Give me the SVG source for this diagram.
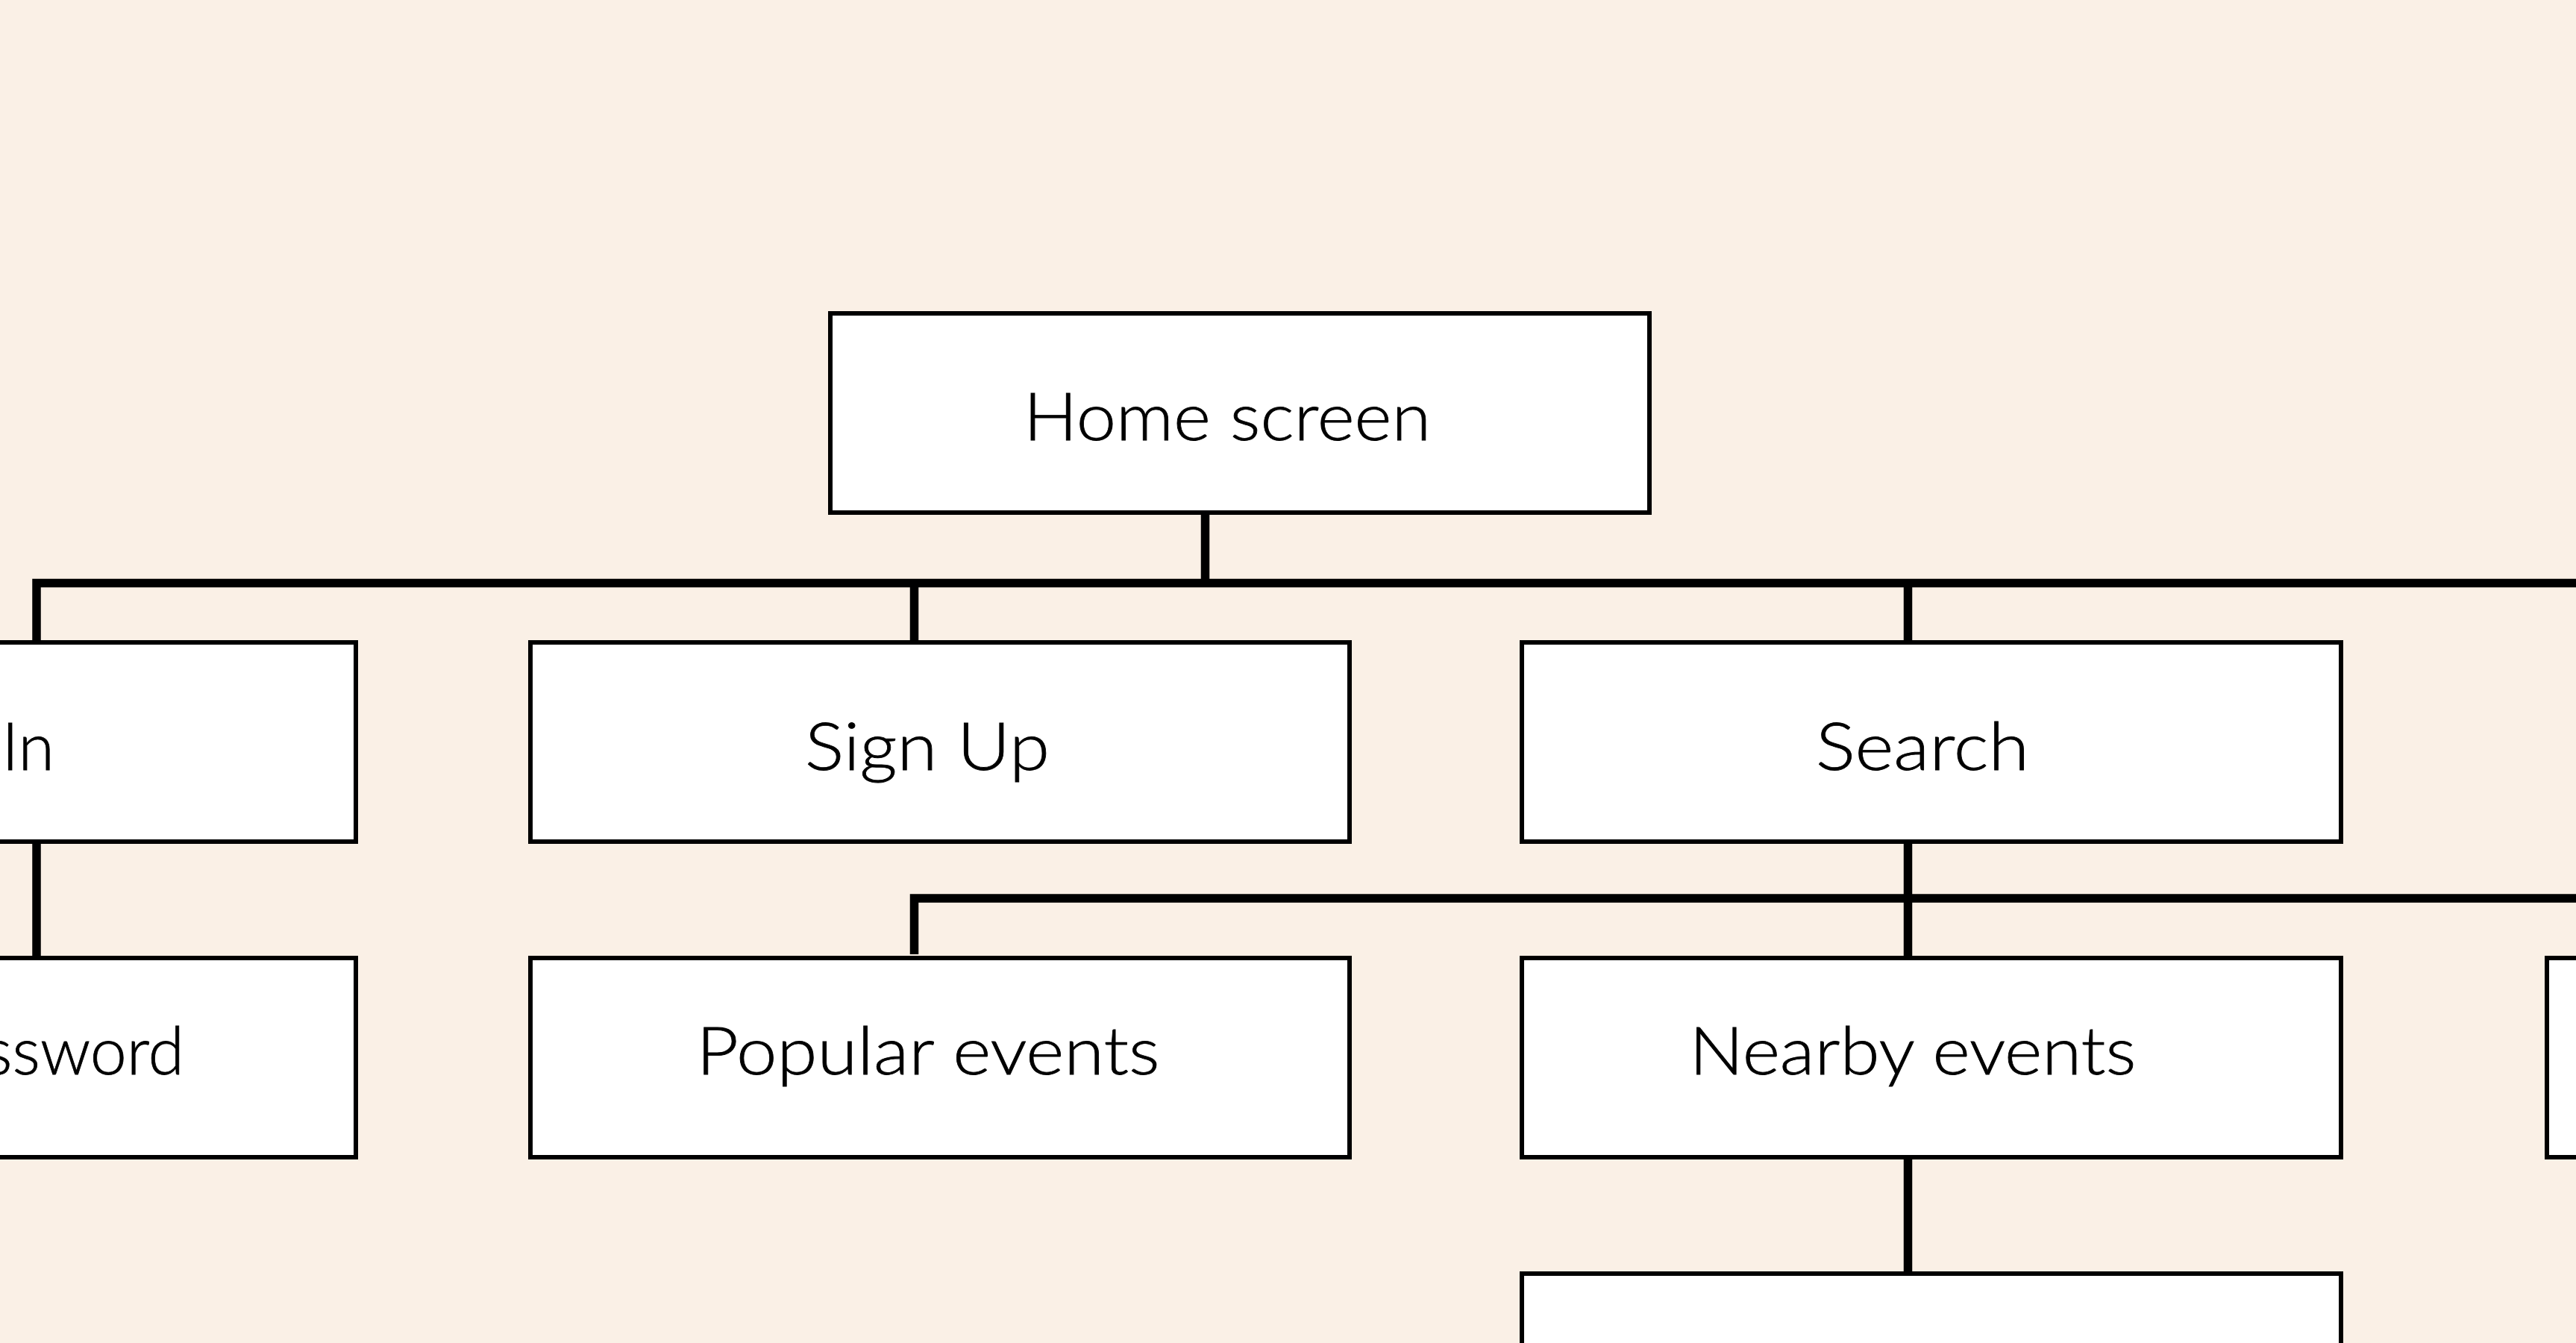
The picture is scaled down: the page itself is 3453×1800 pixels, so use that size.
<svg xmlns="http://www.w3.org/2000/svg" width="3453" height="1800" viewBox="0 0 3453 1800">
<style>
.box{fill:#ffffff;stroke:#000000;stroke-width:6}
.con{fill:none;stroke:#000000;stroke-width:11.5;stroke-linejoin:miter;stroke-linecap:butt}
.lbl{font-family:"Lato","Open Sans","Liberation Sans",sans-serif;font-size:88px;font-weight:300;fill:#000000;stroke:#000000;stroke-width:0.8;text-anchor:middle}
</style>
<rect x="0" y="0" width="3453" height="1800" fill="#FAF0E6"/>
<g id="connectors">
<path class="con" d="M1615.5 687 V781.5"/>
<path class="con" d="M49 861 V781.5 H3470"/>
<path class="con" d="M1225.5 781.5 V861"/>
<path class="con" d="M2557.5 781.5 V861"/>
<path class="con" d="M49 1128 V1284"/>
<path class="con" d="M1225.5 1279 V1204 H3470"/>
<path class="con" d="M2557.5 1128 V1284"/>
<path class="con" d="M2557.5 1551 V1707"/>
</g>
<g id="home-screen">
<rect class="box" x="1113" y="420" width="1098" height="267"/>
<text class="lbl" x="1645" y="590" textLength="546" lengthAdjust="spacingAndGlyphs">Home screen</text>
</g>
<g id="sign-in">
<rect class="box" x="-621" y="861" width="1098" height="267"/>
<text class="lbl" x="73" y="1032" style="text-anchor:end">Sign In</text>
</g>
<g id="sign-up">
<rect class="box" x="711" y="861" width="1098" height="267"/>
<text class="lbl" x="1243" y="1032" textLength="328" lengthAdjust="spacingAndGlyphs">Sign Up</text>
</g>
<g id="search">
<rect class="box" x="2040" y="861" width="1098" height="267"/>
<text class="lbl" x="2577" y="1032" textLength="286" lengthAdjust="spacingAndGlyphs">Search</text>
</g>
<g id="forgot-password">
<rect class="box" x="-621" y="1284" width="1098" height="267"/>
<text class="lbl" x="247" y="1440" style="text-anchor:end">Forgot password</text>
</g>
<g id="popular-events">
<rect class="box" x="711" y="1284" width="1098" height="267"/>
<text class="lbl" x="1244" y="1440" textLength="621" lengthAdjust="spacingAndGlyphs">Popular events</text>
</g>
<g id="nearby-events">
<rect class="box" x="2040" y="1284" width="1098" height="267"/>
<text class="lbl" x="2564" y="1440" textLength="599" lengthAdjust="spacingAndGlyphs">Nearby events</text>
</g>
<g id="right-node">
<rect class="box" x="3414" y="1284" width="1098" height="267"/>
</g>
<g id="bottom-node">
<rect class="box" x="2040" y="1707" width="1098" height="267"/>
</g>
</svg>
